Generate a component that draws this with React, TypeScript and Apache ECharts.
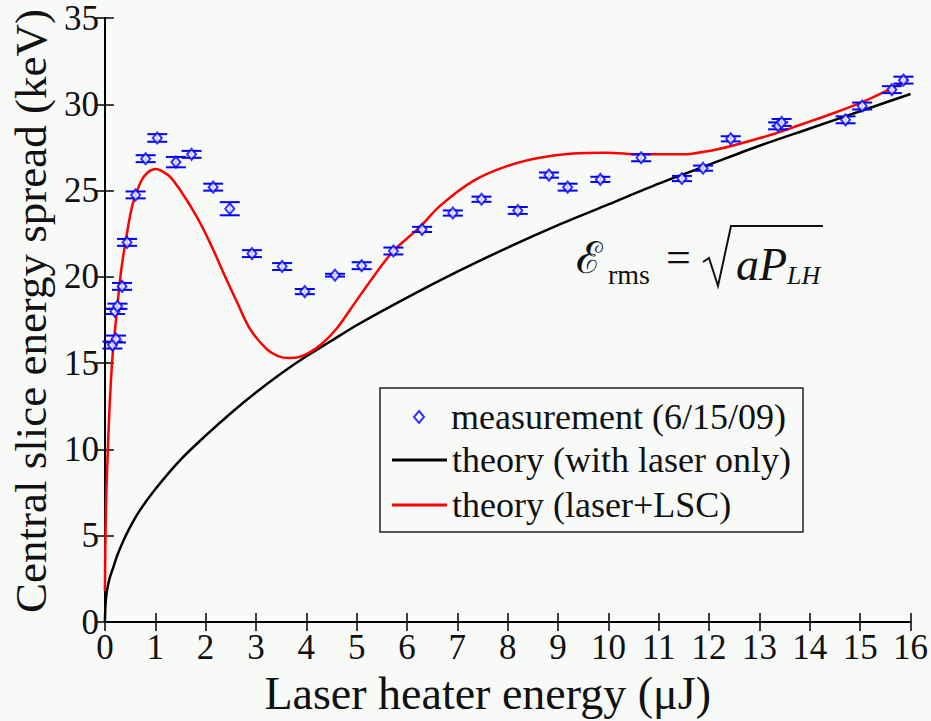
import React, { useEffect, useRef } from "react";
import * as echarts from "echarts";

// ---- data ----
const measX = [0.15, 0.22, 0.2, 0.25, 0.34, 0.44, 0.61, 0.81, 1.04, 1.41, 1.72, 2.15, 2.48, 2.92, 3.52, 3.97, 4.57, 5.1, 5.73, 6.3, 6.91, 7.48, 8.2, 8.82, 9.19, 9.84, 10.65, 11.46, 11.88, 12.43, 13.37, 13.44, 14.71, 15.04, 15.63, 15.86];
const measY = [16.05, 16.4, 18.0, 18.3, 19.45, 22.0, 24.75, 26.85, 28.05, 26.65, 27.1, 25.2, 23.95, 21.35, 20.6, 19.15, 20.1, 20.65, 21.5, 22.75, 23.7, 24.5, 23.85, 25.9, 25.2, 25.65, 26.9, 25.7, 26.3, 28.0, 28.75, 28.95, 29.1, 29.9, 30.85, 31.4];
const measErr = [0.2, 0.2, 0.15, 0.15, 0.2, 0.2, 0.2, 0.2, 0.22, 0.3, 0.2, 0.2, 0.38, 0.2, 0.2, 0.15, 0.08, 0.2, 0.2, 0.15, 0.15, 0.15, 0.2, 0.15, 0.2, 0.15, 0.2, 0.15, 0.15, 0.15, 0.2, 0.2, 0.2, 0.2, 0.2, 0.2];

const laserOnlyX = [0, 0.01, 0.03, 0.06, 0.1, 0.17, 0.25, 0.35, 0.5, 0.7, 1.0, 1.5, 2.0, 2.5, 3.0, 3.5, 4.0, 4.5, 5.0, 6.0, 7.0, 8.0, 9.0, 10.0, 11.0, 12.0, 13.0, 14.0, 15.0, 16.0];
const laserOnlyY = [0, 0.9, 1.6, 2.1, 2.6, 3.2, 3.9, 4.6, 5.5, 6.5, 7.7, 9.4, 10.8, 12.1, 13.3, 14.4, 15.4, 16.3, 17.2, 18.8, 20.3, 21.7, 23.0, 24.2, 25.4, 26.5, 27.6, 28.6, 29.6, 30.6];

const lscX = [0, 0.02, 0.05, 0.08, 0.12, 0.16, 0.22, 0.32, 0.42, 0.55, 0.71, 0.85, 1.01, 1.15, 1.31, 1.57, 1.84, 2.1, 2.36, 2.63, 2.89, 3.22, 3.45, 3.65, 3.85, 4.05, 4.3, 4.6, 4.87, 5.33, 5.73, 6.26, 6.65, 7.31, 7.97, 8.63, 9.29, 9.95, 10.65, 11.47, 12.0, 12.46, 13.25, 13.8, 14.44, 15.1, 15.5, 15.96];
const lscY = [1.8, 6.5, 9.3, 11.6, 14.0, 15.7, 17.5, 20.3, 22.2, 24.2, 25.5, 26.05, 26.25, 26.1, 25.75, 24.7, 23.4, 21.9, 20.2, 18.5, 16.95, 15.8, 15.4, 15.3, 15.35, 15.6, 16.1, 17.0, 18.1, 20.0, 21.5, 22.9, 24.1, 25.55, 26.4, 26.9, 27.15, 27.2, 27.1, 27.1, 27.3, 27.6, 28.25, 28.8, 29.45, 30.2, 30.75, 31.45];

const xMin = 0, xMax = 16, xStep = 1;
const yMin = 0, yMax = 35, yStep = 5;

const seriesNames = ["measurement (6/15/09)", "theory (with laser only)", "theory (laser+LSC)"];
const xTitle = "Laser heater energy (μJ)";
const yTitle = "Central slice energy spread (keV)";

const FONT = "Liberation Serif";
const BG = "#f7faf7";
const INK = "#111";

const CSS = `#chartbox svg text, #chartbox svg tspan { font-family: "Liberation Serif", "Times New Roman", serif !important; }`;

export default function App() {
  const ref = useRef<HTMLDivElement>(null);

  useEffect(() => {
    if (!ref.current) return;
    const chart = echarts.init(ref.current, undefined, { renderer: "svg" });

    const axisLine = { show: true, lineStyle: { color: "#000", width: 2 } };
    const axisTick = { show: true, inside: true, length: 9, lineStyle: { color: "#000", width: 1.5 } };

    const errData = measX.map((x, i) => [x, measY[i], measErr[i]]);

    const txt = (text: string, x: number, y: number, size: number, italic = false) => ({
      type: "text",
      x,
      y,
      z: 10,
      style: {
        text,
        fontFamily: FONT,
        fontSize: size,
        fontStyle: italic ? "italic" : "normal",
        fill: INK,
        verticalAlign: "middle",
        align: "left",
      },
    });

    const option: any = {
      animation: false,
      backgroundColor: BG,
      grid: { left: 104, right: 19, top: 18, bottom: 85, containLabel: false },
      xAxis: [
        {
          type: "value",
          min: xMin,
          max: xMax,
          interval: xStep,
          position: "bottom",
          axisLine,
          axisTick,
          splitLine: { show: false },
          axisLabel: { fontFamily: FONT, fontSize: 35, color: INK, margin: 8 },
          name: xTitle,
          nameLocation: "middle",
          nameGap: 40,
          nameTextStyle: { fontFamily: FONT, fontSize: 46, color: INK, padding: [0, 40, 0, 0] },
        },
        {
          type: "value",
          min: xMin,
          max: xMax,
          interval: xStep,
          position: "top",
          axisLine,
          axisTick,
          splitLine: { show: false },
          axisLabel: { show: false },
        },
      ],
      yAxis: [
        {
          type: "value",
          min: yMin,
          max: yMax,
          interval: yStep,
          position: "left",
          axisLine,
          axisTick,
          splitLine: { show: false },
          axisLabel: { fontFamily: FONT, fontSize: 35, color: INK, margin: 6 },
          name: yTitle,
          nameLocation: "middle",
          nameGap: 50,
          nameTextStyle: { fontFamily: FONT, fontSize: 45, color: INK, padding: [0, 0, 0, 18] },
        },
        {
          type: "value",
          min: yMin,
          max: yMax,
          interval: yStep,
          position: "right",
          axisLine,
          axisTick,
          splitLine: { show: false },
          axisLabel: { show: false },
        },
      ],
      legend: [
        {
          orient: "vertical",
          left: 413,
          top: 397,
          padding: 0,
          itemWidth: 10,
          itemHeight: 12,
          data: [{ name: seriesNames[0], icon: "emptyDiamond" }],
          textStyle: { fontFamily: FONT, fontSize: 36, color: INK, lineHeight: 40, padding: [0, 0, 0, 22] },
        },
        {
          orient: "vertical",
          left: 392,
          top: 440,
          padding: 0,
          itemWidth: 55,
          itemHeight: 3,
          itemGap: 5,
          icon: "rect",
          data: [seriesNames[1], seriesNames[2]],
          textStyle: { fontFamily: FONT, fontSize: 36, color: INK, lineHeight: 40 },
        },
      ],
      graphic: [
        {
          type: "rect",
          shape: { x: 380, y: 388, width: 423, height: 144 },
          style: { fill: "none", stroke: "#222", lineWidth: 1.5 },
          z: 10,
        },
        txt("ℰ", 576, 258, 44),
        txt("rms", 608, 274, 28),
        txt("=", 666, 257, 44),
        {
          type: "polyline",
          shape: { points: [[703, 262], [709, 258], [718, 286], [731, 226], [823, 226]] },
          style: { stroke: INK, lineWidth: 2, fill: "none" },
          z: 10,
        },
        txt("aP", 736, 264, 46, true),
        txt("LH", 787, 275, 26, true),
      ],
      series: [
        {
          name: "errorbars",
          type: "custom",
          xAxisIndex: 0,
          yAxisIndex: 0,
          data: errData,
          renderItem: (params: any, api: any) => {
            const x = api.value(0);
            const y = api.value(1);
            const e = api.value(2);
            const top = api.coord([x, y + e]);
            const bot = api.coord([x, y - e]);
            const hw = 10;
            const style = { stroke: "#0000ff", lineWidth: 2 };
            return {
              type: "group",
              children: [
                { type: "line", shape: { x1: top[0], y1: top[1], x2: bot[0], y2: bot[1] }, style },
                { type: "line", shape: { x1: top[0] - hw, y1: top[1], x2: top[0] + hw, y2: top[1] }, style },
                { type: "line", shape: { x1: bot[0] - hw, y1: bot[1], x2: bot[0] + hw, y2: bot[1] }, style },
              ],
            };
          },
          encode: { x: 0, y: 1 },
          z: 3,
          silent: true,
        },
        {
          name: seriesNames[0],
          type: "scatter",
          data: measX.map((x, i) => [x, measY[i]]),
          symbol: "emptyDiamond",
          symbolSize: [9, 11],
          itemStyle: { color: "#0000ff", borderColor: "#0000ff", borderWidth: 1.5 },
          z: 4,
        },
        {
          name: seriesNames[1],
          type: "line",
          data: laserOnlyX.map((x, i) => [x, laserOnlyY[i]]),
          showSymbol: false,
          symbol: "none",
          smooth: 0.3,
          lineStyle: { color: "#000", width: 2.5 },
          itemStyle: { color: "#000" },
          z: 2,
        },
        {
          name: seriesNames[2],
          type: "line",
          data: lscX.map((x, i) => [x, lscY[i]]),
          showSymbol: false,
          symbol: "none",
          smooth: 0.35,
          lineStyle: { color: "#ff0000", width: 2.5 },
          itemStyle: { color: "#ff0000" },
          z: 2,
        },
      ],
    };

    chart.setOption(option);
    return () => chart.dispose();
  }, []);

  return (
    <>
      <style>{CSS}</style>
      <div
        id="chartbox"
        ref={ref}
        style={{ position: "fixed", left: 0, top: 0, width: 931, height: 721, background: BG }}
      />
    </>
  );
}
